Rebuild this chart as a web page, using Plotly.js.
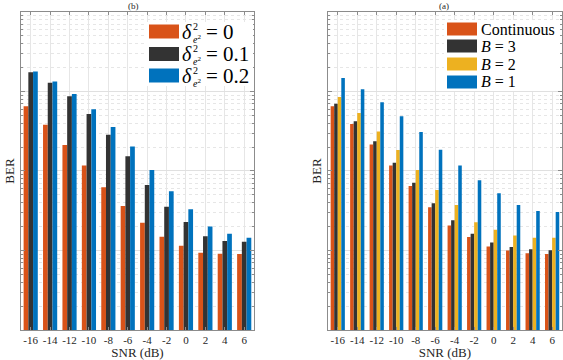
<!DOCTYPE html>
<html>
<head>
<meta charset="utf-8">
<script src="https://cdn.plot.ly/plotly-3.0.1.min.js"></script>
<style>
  body { margin: 0; background: #fff; }
  #grafikas { width: 563px; height: 360px; }
</style>
</head>
<body>
<div id="grafikas"></div>
<script>
// SNR values (dB)
var snr = ['-16', '-14', '-12', '-10', '-8', '-6', '-4', '-2', '0', '2', '4', '6'];

// (b) channel estimation error variance
var berDelta0   = [0.065, 0.0383, 0.0212, 0.0117, 0.00623, 0.00363, 0.00224, 0.00149, 0.00115, 0.000937, 0.000912, 0.000904];
var berDelta01  = [0.174, 0.129, 0.087, 0.052, 0.0286, 0.0153, 0.00667, 0.00356, 0.00229, 0.00151, 0.00132, 0.00129];
var berDelta02  = [0.179, 0.134, 0.093, 0.0597, 0.0357, 0.0204, 0.0103, 0.00555, 0.00331, 0.00201, 0.00162, 0.00145];

// (a) quantization bits
var berCont = [0.065, 0.039, 0.0216, 0.0117, 0.00646, 0.00349, 0.00207, 0.00148, 0.00112, 0.001, 0.000922, 0.000904];
var berB3   = [0.0703, 0.0422, 0.0236, 0.0127, 0.00713, 0.00392, 0.0024, 0.00163, 0.00126, 0.00111, 0.00104, 0.00101];
var berB2   = [0.0853, 0.0537, 0.0315, 0.0184, 0.0103, 0.00576, 0.00373, 0.00226, 0.00183, 0.00155, 0.00145, 0.00145];
var berB1   = [0.148, 0.107, 0.073, 0.0488, 0.031, 0.0185, 0.0117, 0.00763, 0.00524, 0.00373, 0.00314, 0.00305];

var spalvos = { oranzine: '#D95319', juoda: '#333333', geltona: '#EDB120', melyna: '#0072BD' };
var sriftas = 'Liberation Serif';

function stulpeliai(y, spalva, xa, ya) {
    return {
        x: snr, y: y, type: 'bar', xaxis: xa, yaxis: ya,
        marker: { color: spalva, line: { width: 0 } },
        showlegend: false, hoverinfo: 'x+y'
    };
}

var data = [
    stulpeliai(berDelta0, spalvos.oranzine, 'x', 'y'),
    stulpeliai(berDelta01, spalvos.juoda, 'x', 'y'),
    stulpeliai(berDelta02, spalvos.melyna, 'x', 'y'),
    stulpeliai(berCont, spalvos.oranzine, 'x2', 'y2'),
    stulpeliai(berB3, spalvos.juoda, 'x2', 'y2'),
    stulpeliai(berB2, spalvos.geltona, 'x2', 'y2'),
    stulpeliai(berB1, spalvos.melyna, 'x2', 'y2')
];

function xasis(domain, anchor) {
    return {
        domain: domain, anchor: anchor, type: 'category',
        showline: true, linecolor: '#8c8c8c', linewidth: 1, mirror: 'ticks',
        ticks: 'inside', ticklen: 3, tickcolor: '#8c8c8c',
        showgrid: true, gridcolor: '#e6e6e6', gridwidth: 1,
        tickfont: { family: sriftas, size: 11, color: '#262626' },
        title: { text: 'SNR (dB)', font: { family: sriftas, size: 13, color: '#262626' }, standoff: 3 },
        automargin: false
    };
}

function yasis(anchor) {
    return {
        domain: [0.0833, 0.9667], anchor: anchor, type: 'log', range: [-4, 0],
        dtick: 1, showticklabels: false,
        showline: true, linecolor: '#8c8c8c', linewidth: 1, mirror: 'ticks',
        ticks: 'inside', ticklen: 4, tickcolor: '#8c8c8c',
        showgrid: true, gridcolor: '#e0e0e0', gridwidth: 1, zeroline: false,
        minor: { dtick: 'D1', ticks: 'inside', ticklen: 2, tickcolor: '#8c8c8c',
                 showgrid: true, gridcolor: '#e6e6e6', griddash: 'dot' },
        title: { text: 'BER', font: { family: sriftas, size: 13, color: '#262626' }, standoff: 2 },
        automargin: false
    };
}

function px(x) { return x / 563; }
function py(y) { return 1 - y / 360; }

var shapes = [];
var annotations = [
    { text: '(b)', x: px(133), y: py(6), xref: 'paper', yref: 'paper', showarrow: false,
      xanchor: 'center', yanchor: 'middle', font: { family: sriftas, size: 9, color: '#262626' } },
    { text: '(a)', x: px(444), y: py(6), xref: 'paper', yref: 'paper', showarrow: false,
      xanchor: 'center', yanchor: 'middle', font: { family: sriftas, size: 9, color: '#262626' } }
];

// legend for (b)
shapes.push({ type: 'rect', xref: 'paper', yref: 'paper', x0: px(147), x1: px(253), y0: py(22), y1: py(86),
              fillcolor: '#fff', line: { width: 0 }, layer: 'above' });
var kairesLegenda = [
    { spalva: spalvos.oranzine, verte: '0', y: 31.5 },
    { spalva: spalvos.juoda, verte: '0.1', y: 54 },
    { spalva: spalvos.melyna, verte: '0.2', y: 75.5 }
];
kairesLegenda.forEach(function (e) {
    shapes.push({ type: 'rect', xref: 'paper', yref: 'paper', x0: px(149), x1: px(179),
                  y0: py(e.y - 7), y1: py(e.y + 7), fillcolor: e.spalva, line: { width: 0 }, layer: 'above' });
    annotations.push({ text: '<i>δ</i>', x: px(181), y: py(e.y), xref: 'paper', yref: 'paper',
                       xanchor: 'left', yanchor: 'middle', borderpad: 0, showarrow: false,
                       font: { family: sriftas, size: 20, color: '#000' } });
    annotations.push({ text: '2<br><i>e</i><sup>2</sup>', x: px(192), y: py(e.y + 1), xref: 'paper', yref: 'paper',
                       xanchor: 'left', yanchor: 'middle', align: 'left', borderpad: 0, showarrow: false,
                       font: { family: sriftas, size: 10, color: '#000' } });
    annotations.push({ text: '= ' + e.verte, x: px(205), y: py(e.y), xref: 'paper', yref: 'paper',
                       xanchor: 'left', yanchor: 'middle', borderpad: 0, showarrow: false,
                       font: { family: sriftas, size: 21, color: '#000' } });
});

// legend for (a)
shapes.push({ type: 'rect', xref: 'paper', yref: 'paper', x0: px(444), x1: px(559), y0: py(20), y1: py(91),
              fillcolor: '#fff', line: { width: 0 }, layer: 'above' });
var desinesLegenda = [
    { spalva: spalvos.oranzine, tekstas: 'Continuous', y: 29 },
    { spalva: spalvos.juoda, tekstas: '<i>B</i> = 3', y: 46 },
    { spalva: spalvos.geltona, tekstas: '<i>B</i> = 2', y: 64 },
    { spalva: spalvos.melyna, tekstas: '<i>B</i> = 1', y: 82 }
];
desinesLegenda.forEach(function (e) {
    shapes.push({ type: 'rect', xref: 'paper', yref: 'paper', x0: px(447), x1: px(477),
                  y0: py(e.y - 6.5), y1: py(e.y + 6.5), fillcolor: e.spalva, line: { width: 0 }, layer: 'above' });
    annotations.push({ text: e.tekstas, x: px(480), y: py(e.y), xref: 'paper', yref: 'paper',
                       xanchor: 'left', yanchor: 'middle', borderpad: 0, showarrow: false,
                       font: { family: sriftas, size: 16, color: '#000' } });
});

var layout = {
    width: 563, height: 360,
    margin: { l: 0, r: 0, t: 0, b: 0 },
    paper_bgcolor: '#fff', plot_bgcolor: '#fff',
    barmode: 'group', bargap: 0.27, bargroupgap: 0,
    xaxis: xasis([0.0373, 0.451], 'y'),
    yaxis: yasis('x'),
    xaxis2: xasis([0.5826, 0.998], 'y2'),
    yaxis2: yasis('x2'),
    shapes: shapes,
    annotations: annotations,
    showlegend: false
};

Plotly.newPlot('grafikas', data, layout, { displayModeBar: false, staticPlot: true });
</script>
</body>
</html>
